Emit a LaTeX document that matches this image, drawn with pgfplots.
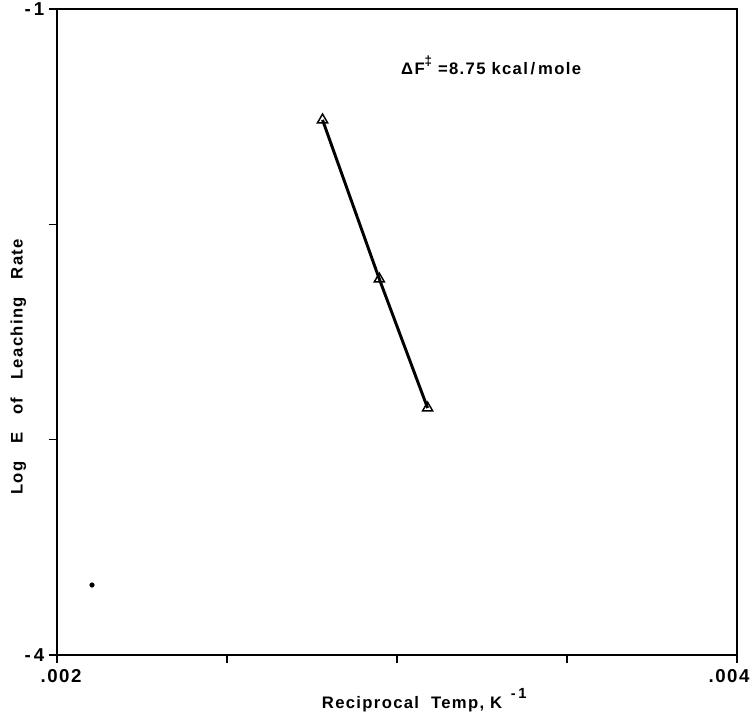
\documentclass[border=0pt]{standalone}
\usepackage{pgfplots}
\pgfplotsset{compat=1.18}
\usepackage{fontspec}
\setmainfont{Liberation Sans}[LetterSpace=8]
\begin{document}
\begin{tikzpicture}
\useasboundingbox (0pt,0pt) rectangle (567pt,541.5pt);
\begin{axis}[
  at={(42.75pt,50.25pt)}, anchor=south west,
  scale only axis, width=510pt, height=484.5pt,
  xmin=0.002, xmax=0.004, ymin=-4, ymax=-1,
  axis line style={line width=1.3pt},
  tick style={line width=1pt, black},
  tick align=outside, major tick length=6pt,
  xtick pos=bottom, ytick pos=left,
  scaled x ticks=false,
  xtick={0.002,0.0025,0.003,0.0035,0.004},
  xticklabels={\hspace*{6pt}.002,,,,.004\hspace*{12pt}},
  ytick={-4,-3,-2,-1},
  yticklabels={-\,4,,,-\,1},
  xticklabel style={font=\fontsize{14}{16}\selectfont\bfseries, yshift=-1pt},
  yticklabel style={font=\fontsize{14}{16}\selectfont\bfseries},
  xlabel={Reciprocal\ \ Temp,\ K\ \,\raisebox{1.2ex}{\fontsize{11}{12}\selectfont\bfseries -\,1}},
  ylabel={Log\ \ \ E\ \ \ of\ \ \ Leaching\ \ \ Rate},
  xlabel style={font=\fontsize{12.5}{14}\selectfont\bfseries, at={(axis description cs:0.54,-0.07)}, anchor=center},
  ylabel style={font=\fontsize{12.5}{14}\selectfont\bfseries, at={(axis description cs:-0.057,0.446)}, anchor=center, rotate=0},
  clip=false,
]
\addplot[black, line width=2.2pt, mark=triangle, mark size=4.4pt,
  mark options={solid, fill=white, line width=1.1pt}]
  coordinates {(0.002781,-1.515) (0.002948,-2.254) (0.003090,-2.853)};
\addplot[only marks, mark=*, mark size=1.7pt, black]
  coordinates {(0.002103,-3.675)};
\node[anchor=west, font=\fontsize{12.5}{14}\selectfont\bfseries]
  at (axis cs:0.0029985,-1.26) {ΔF\raisebox{1.0ex}{\fontsize{10}{11}\selectfont ‡}\ =8.75\ kcal\,/\,mole};
\end{axis}
\end{tikzpicture}
\end{document}
